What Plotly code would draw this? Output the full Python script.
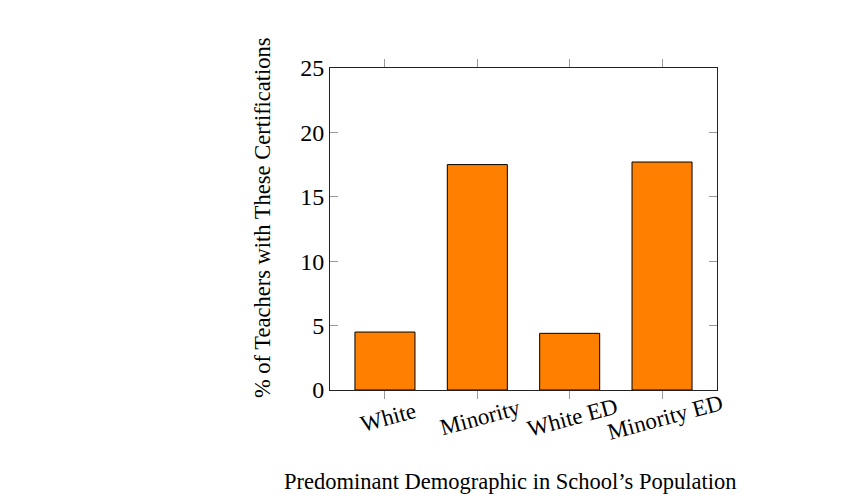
import plotly.graph_objects as go

categories = ["White", "Minority", "White ED", "Minority ED"]
values = [4.5, 17.5, 4.4, 17.7]
y_ticks = [0, 5, 10, 15, 20, 25]

FONT = "Liberation Serif"

fig = go.Figure()
fig.add_trace(go.Bar(
    x=list(range(len(categories))), y=values,
    width=0.65,
    marker=dict(color="#FF8000", line=dict(color="black", width=1)),
))

annotations = [
    dict(text="Predominant Demographic in School’s Population",
         xref="paper", yref="paper", x=(510-330)/387, y=-(482-390)/322,
         xanchor="center", yanchor="middle", showarrow=False,
         font=dict(family=FONT, size=22.5)),
    dict(text="% of Teachers with These Certifications",
         xref="paper", yref="paper", x=-(330-262)/387, y=(390-218)/322,
         xanchor="center", yanchor="middle", showarrow=False, textangle=-90,
         font=dict(family=FONT, size=22.5)),
]
for i, c in enumerate(categories):
    annotations.append(dict(
        text=c, xref="x", yref="paper", x=i, y=-(417-390)/322,
        xanchor="center", yanchor="middle", showarrow=False, xshift=3,
        textangle=-15, font=dict(family=FONT, size=23)))

fig.update_layout(
    width=868, height=501,
    margin=dict(l=330, r=151, t=68, b=111),
    plot_bgcolor="white", paper_bgcolor="white",
    showlegend=False,
    font=dict(family=FONT, color="black"),
    xaxis=dict(
        range=[-0.595, 3.595],
        tickvals=list(range(len(categories))), showticklabels=False,
        ticks="outside", ticklen=8, tickcolor="#999",
        mirror="ticks", showline=True, linecolor="#222", linewidth=1,
        showgrid=False, zeroline=False,
    ),
    yaxis=dict(
        range=[0, 25], tickvals=y_ticks,
        ticks="inside", ticklen=8, tickcolor="#999",
        mirror="ticks", showline=True, linecolor="#222", linewidth=1,
        showgrid=False, zeroline=False,
        tickfont=dict(family=FONT, size=24),
    ),
    annotations=annotations,
)

fig.write_html("out.html")
